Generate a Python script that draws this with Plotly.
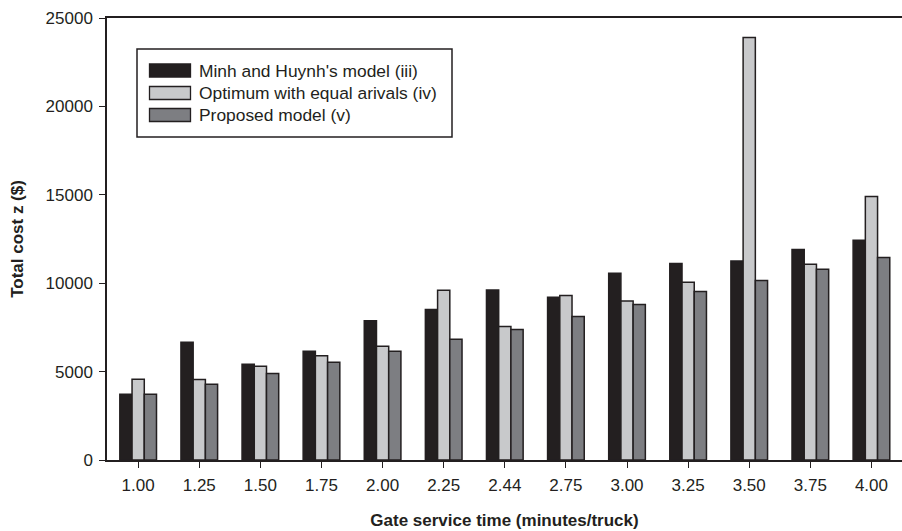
import plotly.graph_objects as go

# Gate service time categories (minutes/truck)
service_times = ["1.00", "1.25", "1.50", "1.75", "2.00", "2.25", "2.44",
                 "2.75", "3.00", "3.25", "3.50", "3.75", "4.00"]

# Total cost z ($) for each model
minh_huynh = [3720, 6660, 5410, 6150, 7870, 8510, 9610, 9210, 10560, 11110, 11260, 11900, 12430]
equal_arrivals = [4570, 4550, 5300, 5900, 6430, 9600, 7550, 9300, 9000, 10050, 23900, 11070, 14900]
proposed = [3720, 4280, 4890, 5530, 6150, 6830, 7380, 8110, 8790, 9530, 10150, 10790, 11450]

series_names = ["Minh and Huynh's model (iii)",
                "Optimum with equal arivals (iv)",
                "Proposed model (v)"]
series_colors = ["#231f20", "#c8c9cb", "#7d7e82"]
series_values = [minh_huynh, equal_arrivals, proposed]

y_ticks = [0, 5000, 10000, 15000, 20000, 25000]

W, H = 902, 531
M_L, M_R, M_T, M_B = 107, 0, 18, 71
EDGE = "#231f20"
FONT = "Liberation Sans, Arial, sans-serif"
FS = 17

fig = go.Figure()
for name, color, vals in zip(series_names, series_colors, series_values):
    fig.add_trace(go.Bar(
        x=service_times, y=vals, name=name,
        marker=dict(color=color, line=dict(color=EDGE, width=1.5)),
        showlegend=False,
    ))


def px_x(px):
    return (px - M_L) / (W - M_L - M_R)


def px_y(py):
    return (H - M_B - py) / (H - M_T - M_B)


# Boxed legend with wide swatches
shapes = [dict(type="rect", xref="paper", yref="paper",
               x0=px_x(137), x1=px_x(452), y0=px_y(137), y1=px_y(49),
               line=dict(color=EDGE, width=1.5), fillcolor="white", layer="above")]
annotations = []
row_centers = [70.5, 93, 115]
for name, color, yc in zip(series_names, series_colors, row_centers):
    shapes.append(dict(type="rect", xref="paper", yref="paper",
                       x0=px_x(149.5), x1=px_x(190.5),
                       y0=px_y(yc + 6.5), y1=px_y(yc - 6.5),
                       line=dict(color=EDGE, width=1.3), fillcolor=color, layer="above"))
    annotations.append(dict(xref="paper", yref="paper", x=px_x(197), y=px_y(yc),
                            text=name, showarrow=False, xanchor="left", yanchor="middle",
                            font=dict(family=FONT, size=17.4, color="#231f20")))

fig.update_layout(
    width=W, height=H,
    margin=dict(l=M_L, r=M_R, t=M_T, b=M_B, pad=0),
    paper_bgcolor="white", plot_bgcolor="white",
    barmode="group", bargap=0.40, bargroupgap=0,
    font=dict(family=FONT, size=FS, color="#231f20"),
    shapes=shapes, annotations=annotations,
    xaxis=dict(
        type="category", range=[-0.51, 12.5],
        showline=True, linecolor=EDGE, linewidth=1.5, mirror=True,
        ticks="outside", ticklen=6, tickwidth=1.2, tickcolor=EDGE,
        ticklabelstandoff=3,
        showgrid=False, zeroline=False,
        tickfont=dict(family=FONT, size=FS, color="#231f20"),
        title=dict(text="<b>Gate service time (minutes/truck)</b>", standoff=20,
                   font=dict(family=FONT, size=FS, color="#231f20")),
    ),
    yaxis=dict(
        range=[0, 25000], tickvals=y_ticks, ticktext=[str(v) for v in y_ticks],
        showline=True, linecolor=EDGE, linewidth=1.5,
        ticks="outside", ticklen=6, tickwidth=1.2, tickcolor=EDGE,
        ticklabelstandoff=3,
        showgrid=False, zeroline=False,
        tickfont=dict(family=FONT, size=FS, color="#231f20"),
        title=dict(text="<b>Total cost z ($)</b>", standoff=18,
                   font=dict(family=FONT, size=FS, color="#231f20")),
    ),
)

fig.write_html("out.html")
